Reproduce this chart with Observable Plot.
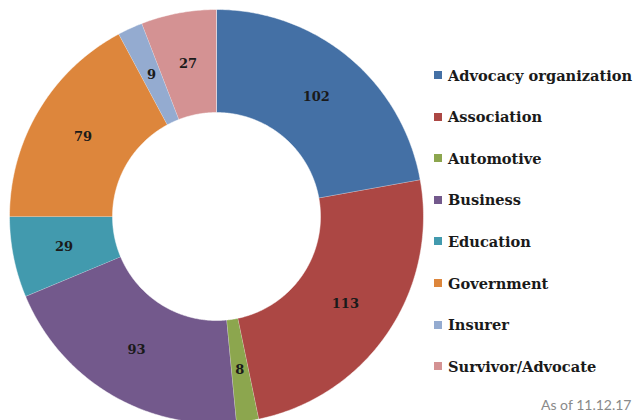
<!DOCTYPE html>
<html><head><meta charset="utf-8">
<script src="https://cdn.jsdelivr.net/npm/d3@7"></script>
<script src="https://cdn.jsdelivr.net/npm/@observablehq/plot@0.6"></script>
<style>
body{margin:0;background:#fff;}
#wrap{position:relative;width:634px;height:420px;overflow:hidden;}
#legend{position:absolute;left:434px;top:0;font-family:"DejaVu Serif",serif;font-weight:bold;font-size:14.6px;color:#1a1a1a;}
.item{position:absolute;left:0;white-space:nowrap;display:flex;align-items:center;}
.sw{width:8px;height:8px;margin-right:6px;}
#note{position:absolute;left:541px;top:396px;font-family:Lato,sans-serif;font-size:14px;color:#8a8a8a;}
</style></head>
<body><div id="wrap"><div id="chart"></div><div id="legend"></div><div id="note">As of 11.12.17</div></div>
<script>
const categories = ["Advocacy organization","Association","Automotive","Business","Education","Government","Insurer","Survivor/Advocate"];
const values = [102,113,8,93,29,79,9,27];
const colors = ["#4470A5","#AC4744","#8CA64E","#73598C","#429AAE","#DD863C","#94ABD0","#D49293"];

const inner = 104/207;
const pie = d3.pie().sort(null).value(d => d.value)(categories.map((c,i)=>({cat:c,value:values[i]})));
const pts = [];
const labels = [];
pie.forEach(s => {
  const n = Math.max(4, Math.ceil((s.endAngle - s.startAngle) / 0.01));
  for (let k=0;k<=n;k++){const a=s.startAngle+(s.endAngle-s.startAngle)*k/n; pts.push({cat:s.data.cat,x:Math.sin(a),y:Math.cos(a)});}
  for (let k=n;k>=0;k--){const a=s.startAngle+(s.endAngle-s.startAngle)*k/n; pts.push({cat:s.data.cat,x:inner*Math.sin(a),y:inner*Math.cos(a)});}
  const m=(s.startAngle+s.endAngle)/2, r=(1+inner)/2;
  labels.push({x:r*Math.sin(m),y:r*Math.cos(m),text:String(s.data.value)});
});

const chart = Plot.plot({
  width:634, height:420, margin:0,
  x:{domain:[-1,1],range:[9,423],axis:null},
  y:{domain:[-1,1],range:[423,9],axis:null},
  color:{domain:categories,range:colors},
  marks:[
    Plot.line(pts,{x:"x",y:"y",z:"cat",fill:"cat",stroke:"white",strokeWidth:0.5}),
    Plot.text(labels,{x:"x",y:"y",text:"text",fill:"#1a1a1a",fontSize:13,fontWeight:"bold",fontFamily:"DejaVu Serif"})
  ]
});
document.getElementById("chart").appendChild(chart);

const leg = document.getElementById("legend");
categories.forEach((c,i)=>{
  const d=document.createElement("div");d.className="item";
  d.style.top=(75+i*41.6-9)+"px";d.style.height="18px";
  d.innerHTML=`<span class="sw" style="background:${colors[i]}"></span><span>${c}</span>`;
  leg.appendChild(d);
});
</script></body></html>
